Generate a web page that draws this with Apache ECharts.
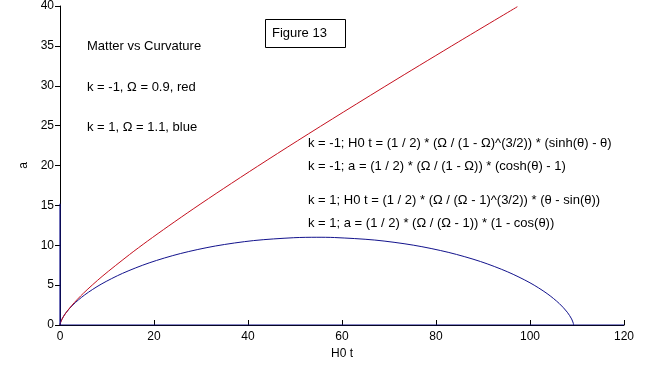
<!DOCTYPE html>
<html>
<head>
<meta charset="utf-8">
<script src="https://cdn.jsdelivr.net/npm/echarts@6/dist/echarts.min.js"></script>
<style>
html,body{margin:0;padding:0;background:#fff;}
#chart{width:664px;height:373px;}
</style>
</head>
<body>
<div id="chart"></div>
<script>
// Red curve: k = -1, Omega = 0.9  [H0 t, a]
const redCurve = [
  [0, 0], [0.019, 0.090], [0.102, 0.279], [0.300, 0.574], [1.029, 1.326],
  [2.493, 2.444], [5.008, 3.998], [8.955, 6.086], [14.805, 8.839],
  [18.62, 10.52], [23.150, 12.430], [28.48, 14.61], [34.738, 17.085],
  [42.04, 19.90], [50.519, 23.095], [60.35, 26.72], [71.710, 30.840],
  [84.81, 35.51], [97.31, 39.91]
];
// Blue curve: k = 1, Omega = 1.1  [H0 t, a]
const blueCurve = [
  [0, 0], [0.045, 0.171], [0.358, 0.673], [1.189, 1.476], [2.757, 2.528],
  [5.235, 3.766], [8.740, 5.111], [13.323, 6.480], [18.970, 7.789],
  [25.600, 8.955], [33.072, 9.906], [41.191, 10.584], [49.723, 10.945],
  [54.640, 11.000], [58.407, 10.968], [66.974, 10.651], [75.162, 10.013],
  [82.732, 9.095], [89.483, 7.956], [95.267, 6.659], [99.994, 5.293],
  [103.640, 3.940], [106.249, 2.684], [107.929, 1.602], [108.847, 0.763],
  [109.214, 0.219], [109.281, 0]
];
// Blue trace lying along the axes
const blueAxisTrace = [[0, 15.2], [0, 0], [120, 0]];

const xTicks = [0, 20, 40, 60, 80, 100, 120];
const yTicks = [0, 5, 10, 15, 20, 25, 30, 35, 40];

const figureLabel = 'Figure 13';
const leftNotes = ['Matter vs Curvature', 'k = -1, Ω = 0.9, red', 'k = 1, Ω = 1.1, blue'];
const rightNotes = [
  'k = -1; H0 t = (1 / 2) * (Ω / (1 - Ω)^(3/2)) * (sinh(θ) - θ)',
  'k = -1; a = (1 / 2) * (Ω / (1 - Ω)) * (cosh(θ) - 1)',
  'k = 1; H0 t = (1 / 2) * (Ω / (Ω - 1)^(3/2)) * (θ - sin(θ))',
  'k = 1; a = (1 / 2) * (Ω / (Ω - 1)) * (1 - cos(θ))'
];

const FONT = "'Liberation Sans', Arial, sans-serif";
const RED = '#c4101e';
const BLUE = '#12128c';

const leftY = [46, 87, 127];
const rightY = [143, 166, 200, 223];
const graphics = [
  { type: 'rect', shape: { x: 265.5, y: 19.5, width: 80, height: 28 },
    style: { fill: '#fff', stroke: '#000', lineWidth: 1 } },
  { type: 'text', x: 272, y: 33, style: { text: figureLabel, font: '13px ' + FONT, fill: '#000', verticalAlign: 'middle' } }
];
leftNotes.forEach((t, i) => graphics.push({ type: 'text', x: 87, y: leftY[i],
  style: { text: t, font: '13px ' + FONT, fill: '#000', verticalAlign: 'middle' } }));
rightNotes.forEach((t, i) => graphics.push({ type: 'text', x: 308, y: rightY[i],
  style: { text: t, font: '13px ' + FONT, fill: '#000', verticalAlign: 'middle' } }));

const chart = echarts.init(document.getElementById('chart'), null, { renderer: 'canvas' });
chart.setOption({
  animation: false,
  backgroundColor: '#fff',
  grid: { left: 60, right: 40, top: 5, bottom: 48, containLabel: false },
  xAxis: {
    type: 'value', min: xTicks[0], max: xTicks[xTicks.length - 1], interval: 20,
    name: 'H0 t', nameLocation: 'middle', nameGap: 22,
    nameTextStyle: { color: '#000', fontFamily: FONT, fontSize: 12 },
    axisLine: { lineStyle: { color: '#000', width: 1 } },
    axisTick: { inside: true, length: 5, lineStyle: { color: '#000' } },
    axisLabel: { color: '#000', fontFamily: FONT, fontSize: 12, margin: 6 },
    splitLine: { show: false }
  },
  yAxis: {
    type: 'value', min: yTicks[0], max: yTicks[yTicks.length - 1], interval: 5,
    name: 'a', nameLocation: 'middle', nameGap: 29,
    nameTextStyle: { color: '#000', fontFamily: FONT, fontSize: 12 },
    axisLine: { show: true, lineStyle: { color: '#000', width: 1 } },
    axisTick: { show: true, inside: false, length: 5, lineStyle: { color: '#000' } },
    axisLabel: { color: '#000', fontFamily: FONT, fontSize: 12, margin: 6 },
    splitLine: { show: false }
  },
  series: [
    { type: 'line', data: redCurve, showSymbol: false, smooth: 0.3,
      lineStyle: { color: RED, width: 1 }, z: 3 },
    { type: 'line', data: blueCurve, showSymbol: false, smooth: 0.3,
      lineStyle: { color: BLUE, width: 1 }, z: 2 },
    { type: 'line', data: blueAxisTrace, showSymbol: false,
      lineStyle: { color: BLUE, width: 1.2 }, z: 4 }
  ],
  graphic: graphics
});
</script>
</body>
</html>
